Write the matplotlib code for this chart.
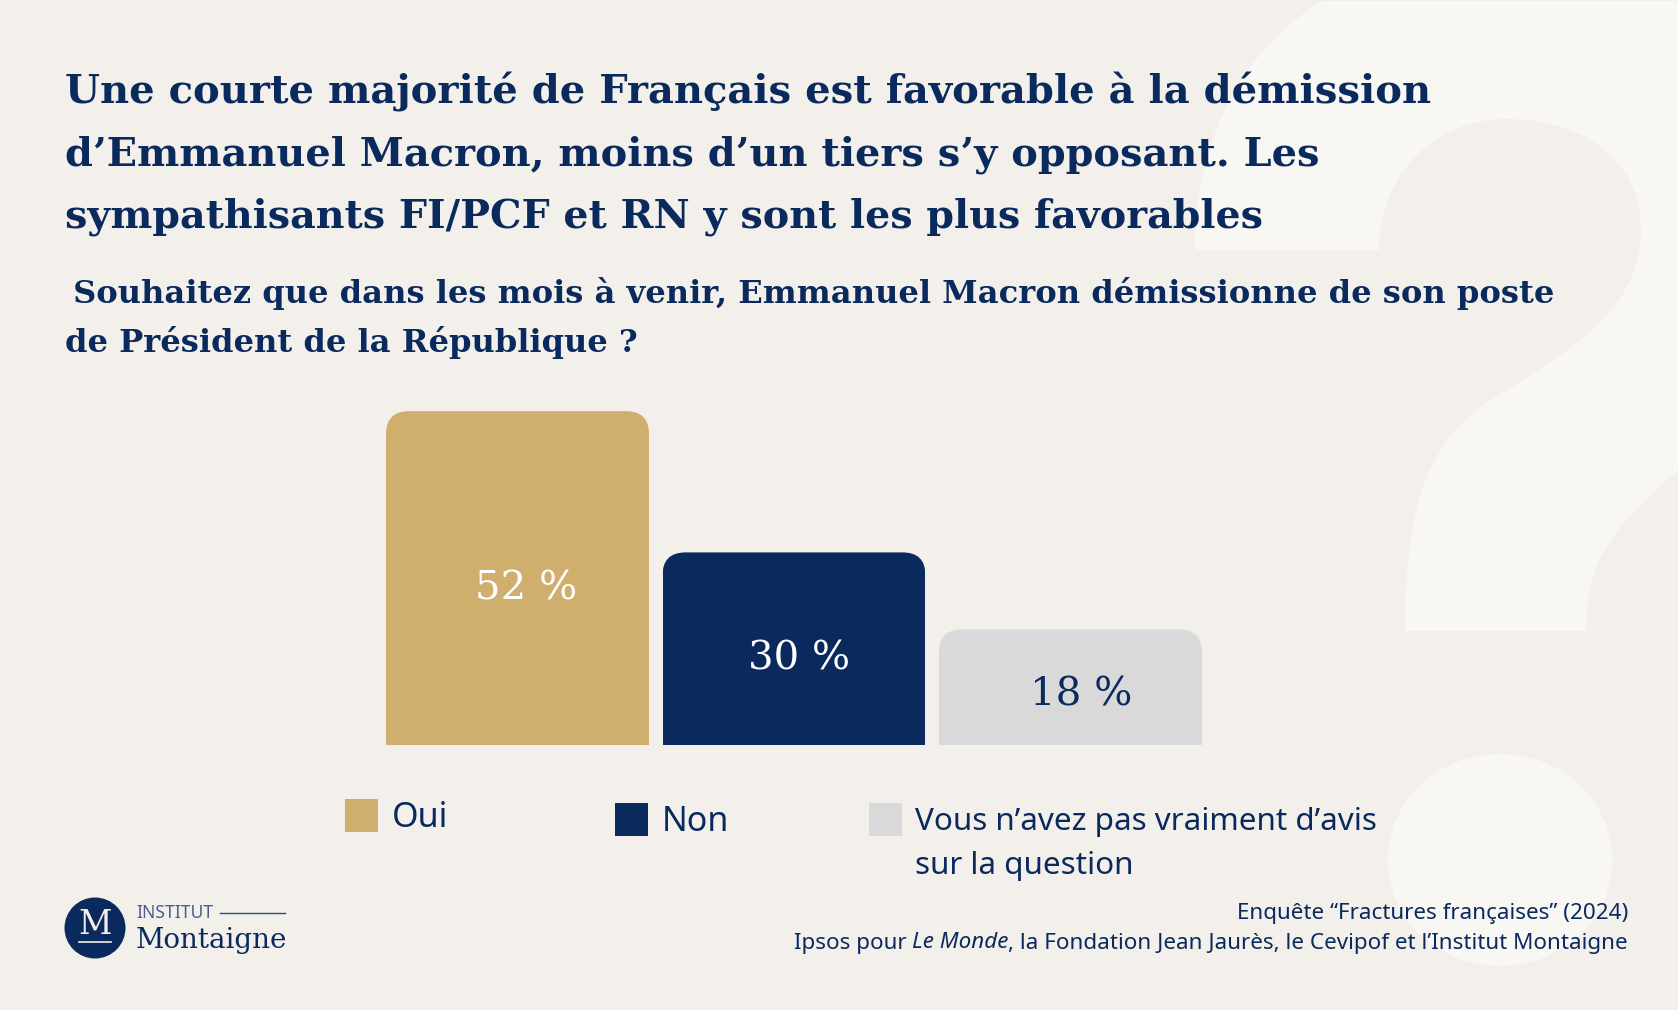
import matplotlib
matplotlib.use("Agg")
from matplotlib import pyplot as plt
from matplotlib.path import Path
from matplotlib.patches import PathPatch, Ellipse, Circle, Rectangle

W, H = 1678, 1010
NAVY = "#0A2A5E"
GOLD = "#CFAE6E"
GREY = "#D9D9D9"
BG = "#F3F0EB"
MARK = "#F8F7F4"

categories = ["Oui", "Non", "Vous n\u2019avez pas vraiment d\u2019avis\nsur la question"]
values = [52, 30, 18]
bar_colors = [GOLD, NAVY, GREY]
label_colors = ["white", "white", NAVY]

title_lines = [
    "Une courte majorit\u00e9 de Fran\u00e7ais est favorable \u00e0 la d\u00e9mission",
    "d\u2019Emmanuel Macron, moins d\u2019un tiers s\u2019y opposant. Les",
    "sympathisants FI/PCF et RN y sont les plus favorables",
]
question_lines = [
    " Souhaitez que dans les mois \u00e0 venir, Emmanuel Macron d\u00e9missionne de son poste",
    "de Pr\u00e9sident de la R\u00e9publique ?",
]

fig = plt.figure(figsize=(W / 100, H / 100), dpi=100, facecolor=BG)

# fond en coordonnees pixels
bg = fig.add_axes([0, 0, 1, 1])
bg.set_xlim(0, W)
bg.set_ylim(H, 0)
bg.axis("off")

# grand point d'interrogation clair
verts = [(1195, 250), (1379, 250),
         (1379, 170), (1440, 119), (1505, 119),
         (1590, 119), (1641, 165), (1641, 230),
         (1641, 300), (1590, 340), (1491, 400),
         (1430, 440), (1405, 500), (1405, 631),
         (1586, 631),
         (1586, 555), (1616, 524), (1690, 460),
         (1690, -5), (1332, -5),
         (1250, 40), (1195, 130), (1195, 250)]
codes = [Path.MOVETO, Path.LINETO] + [Path.CURVE4] * 12 + [Path.LINETO] + [Path.CURVE4] * 3 \
    + [Path.LINETO, Path.LINETO] + [Path.CURVE4] * 3
bg.add_patch(PathPatch(Path(verts, codes), fc=MARK, ec="none"))
bg.add_patch(Ellipse((1500, 860), 225, 212, fc=MARK, ec="none"))
bg.add_patch(Rectangle((0, 0), W, 1, fc="#EEF0F0", ec="none"))

# titres, une taille par ligne pour garder les memes largeurs
title_sizes = [28.9, 28.7, 28.5]
for i, line in enumerate(title_lines):
    bg.text(65, 103 + i * 62.3, line, family="DejaVu Serif", weight="bold", fontsize=title_sizes[i],
            color=NAVY, va="baseline", ha="left")
question_x = [62, 65]
for i, line in enumerate(question_lines):
    bg.text(question_x[i], 303 + i * 49, line, family="DejaVu Serif", weight="bold", fontsize=23.15,
            color=NAVY, va="baseline", ha="left")

# barres : axe 0 a y=745px, 6.42 px par point, une barre tous les 276.5 px
left = 379.25
right = 1208.75
bottom = 745
ymax = 60
top = bottom - ymax * 6.42
ax = fig.add_axes([left / W, 1 - bottom / H, (right - left) / W, (bottom - top) / H])
ax.patch.set_alpha(0)
ax.set_xlim(-0.5, 2.5)
ax.set_ylim(0, ymax)
ax.axis("off")
bar_width = 0.951
bars = ax.bar(range(len(values)), values, width=bar_width, color=bar_colors, linewidth=0)
rx, ry = 23 / 276.5, 23 / 6.42
for bar in bars:
    x0 = bar.get_x()
    x1 = x0 + bar.get_width()
    h = bar.get_height()
    clip = Path([(x0, 0), (x0, h - ry), (x0, h), (x0 + rx, h), (x1 - rx, h), (x1, h), (x1, h - ry), (x1, 0), (x0, 0)],
                [Path.MOVETO, Path.LINETO, Path.CURVE3, Path.CURVE3, Path.LINETO, Path.CURVE3, Path.CURVE3,
                 Path.LINETO, Path.CLOSEPOLY])
    bar.set_clip_path(clip, ax.transData)

# etiquettes (position en pixels comme sur l'original)
label_pos = [(526, 589.5), (799, 658.5), (1081, 695.5)]
for v, c, (px, py) in zip(values, label_colors, label_pos):
    ax.text(px, py, f"{v} %", family="DejaVu Serif", fontsize=29, color=c, ha="center", va="center",
            transform=bg.transData, zorder=5)

# legende
legend_pos = [(345, 799, 392, 818), (615, 803, 662, 822), (869, 803, 915, 822)]
legend_sizes = [24.5, 24.5, 22.65]
for cat, c, fsize, (sx, sy, tx, ty) in zip(categories, bar_colors, legend_sizes, legend_pos):
    bg.add_patch(Rectangle((sx, sy), 33, 33, fc=c, ec="none"))
    for j, part in enumerate(cat.split("\n")):
        bg.text(tx, ty + j * 44, part, family="Noto Sans", fontsize=fsize, color=NAVY, ha="left", va="center")

# logo
bg.add_patch(Circle((95, 928), 30.5, fc=NAVY, ec="none"))
bg.text(95, 925, "M", family="DejaVu Serif", fontsize=23.5, color="#F3F0EB", ha="center", va="center")
bg.plot([79, 111], [942, 942], color="#F3F0EB", lw=1.2)
bg.text(136, 913, "INSTITUT", family="Noto Sans", weight="light", fontsize=12.6, color="#4A6088", ha="left", va="center")
bg.plot([220, 285], [912.5, 912.5], color="#2F4A7C", lw=1)
bg.text(136, 948, "Montaigne", family="DejaVu Serif", fontsize=20, color=NAVY, ha="left", va="baseline")

# source, ecrite par morceaux pour l'italique
fs = 16.14
bg.text(1628, 913, "Enqu\u00eate \u201cFractures fran\u00e7aises\u201d (2024)", family="Noto Sans", fontsize=fs,
        color=NAVY, ha="right", va="center")
renderer = fig.canvas.get_renderer()
x = 1628
parts = [(", la Fondation Jean Jaur\u00e8s, le Cevipof et l\u2019Institut Montaigne", "normal"),
         ("Le Monde", "italic"), ("Ipsos pour ", "normal")]
for part, style in parts:
    t = bg.text(x, 943, part, family="Noto Sans", style=style, fontsize=fs, color=NAVY, ha="right", va="center")
    x -= t.get_window_extent(renderer).width

fig.savefig("out.png", dpi=100, facecolor=BG)
